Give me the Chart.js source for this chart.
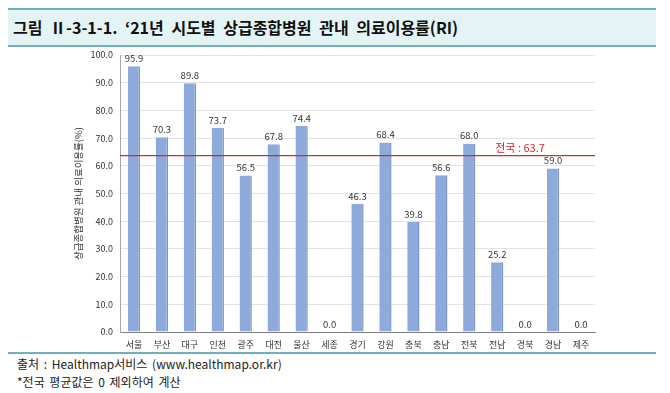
<!DOCTYPE html>
<html>
<head>
<meta charset="utf-8">
<script src="https://cdn.jsdelivr.net/npm/chart.js@4.4.0/dist/chart.umd.min.js"></script>
<style>
  html, body { margin:0; padding:0; background:#fff; width:670px; height:393px; overflow:hidden; }
  body { position:relative; font-family:"Noto Sans CJK KR","Noto Sans",sans-serif; }
  #band { position:absolute; left:8px; top:8px; width:648px; height:35px; background:#e4f3f3;
          border-top:2px solid #6eb0bf; border-bottom:2px solid #6eb0bf; }
  #title { position:absolute; left:13px; top:15px; font-size:16px; font-weight:bold; color:#111; word-spacing:4px; white-space:nowrap; }
  #foot-line { position:absolute; left:8px; top:352px; width:648px; height:2px; background:#6eb0bf; }
  .foot { position:absolute; left:17px; font-size:12px; color:#222; white-space:nowrap; word-spacing:2px; }
  #wrap { position:absolute; left:0; top:0; width:670px; height:393px; }
</style>
</head>
<body>
<div id="band"></div>
<div id="title">그림 Ⅱ-3-1-1. ‘21년 시도별 상급종합병원 관내 의료이용률(RI)</div>
<div id="foot-line"></div>
<div class="foot" style="top:355px;">출처 : Healthmap서비스 (www.healthmap.or.kr)</div>
<div class="foot" style="top:373px;">*전국 평균값은 0 제외하여 계산</div>
<div id="wrap"><canvas id="c"></canvas></div>
<script>
const regions = ["서울","부산","대구","인천","광주","대전","울산","세종","경기","강원","충북","충남","전북","전남","경북","경남","제주"];
const riValues = [95.9,70.3,89.8,73.7,56.5,67.8,74.4,0.0,46.3,68.4,39.8,56.6,68.0,25.2,0.0,59.0,0.0];
const nationalAvg = 63.7;
const nationalLabel = "전국 : 63.7";
const yTicks = [0,10,20,30,40,50,60,70,80,90,100];
const yTitle = "상급종합병원 관내 의료이용률(%)";

const FONT = '"Noto Sans CJK KR","Noto Sans",sans-serif';

const overlay = {
  id: 'overlay',
  afterDatasetsDraw(chart) {
    const ctx = chart.ctx;
    const ys = chart.scales.y;
    const area = chart.chartArea;
    ctx.save();
    ctx.font = '9.5px ' + FONT;
    ctx.fillStyle = '#333';
    ctx.textAlign = 'center';
    ctx.textBaseline = 'bottom';
    const meta = chart.getDatasetMeta(0);
    meta.data.forEach((bar, i) => {
      ctx.fillText(riValues[i].toFixed(1), bar.x, ys.getPixelForValue(riValues[i]) - 3);
    });
    const yAvg = ys.getPixelForValue(nationalAvg);
    ctx.strokeStyle = '#d42a2a';
    ctx.lineWidth = 1.3;
    ctx.beginPath();
    ctx.moveTo(area.left, yAvg);
    ctx.lineTo(area.right, yAvg);
    ctx.stroke();
    ctx.font = '11px ' + FONT;
    ctx.fillStyle = '#d42a2a';
    ctx.textBaseline = 'bottom';
    ctx.fillText(nationalLabel, area.right - 75, yAvg - 2);
    ctx.restore();
  }
};

new Chart(document.getElementById('c'), {
  type: 'bar',
  data: {
    labels: regions,
    datasets: [{
      data: riValues,
      backgroundColor: '#8eaadb',
      borderColor: '#7d98c8',
      borderWidth: {left:0, top:0, bottom:0, right:1.5},
      barPercentage: 0.44,
      categoryPercentage: 1.0
    }]
  },
  options: {
    responsive: true,
    maintainAspectRatio: false,
    animation: false,
    layout: { padding: { left: 60, right: 75, top: 55, bottom: 43 } },
    plugins: { legend: { display:false }, tooltip: { enabled:false } },
    scales: {
      x: {
        grid: { display:false, drawTicks:false },
        border: { color:'#7f7f7f', width:1 },
        ticks: { color:'#333', font:{ size:9, family:FONT }, padding:7, maxRotation:0, autoSkip:false },
        afterFit(s) { s.height = 18; }
      },
      y: {
        min: 0, max: 100,
        afterBuildTicks(s) { s.ticks = yTicks.map(v => ({value:v})); },
        grid: { color:'#e3e3e3', drawTicks:false },
        border: { color:'#a6a6a6', width:1 },
        ticks: { color:'#333', font:{ size:9, family:FONT }, padding:7, callback:v => Number(v).toFixed(1) },
        title: { display:true, text:yTitle, color:'#333', font:{ size:9.5, family:FONT }, padding:{top:13, bottom:0} },
        afterFit(s) { s.width = 60; }
      }
    }
  },
  plugins: [overlay]
});
</script>
</body>
</html>
